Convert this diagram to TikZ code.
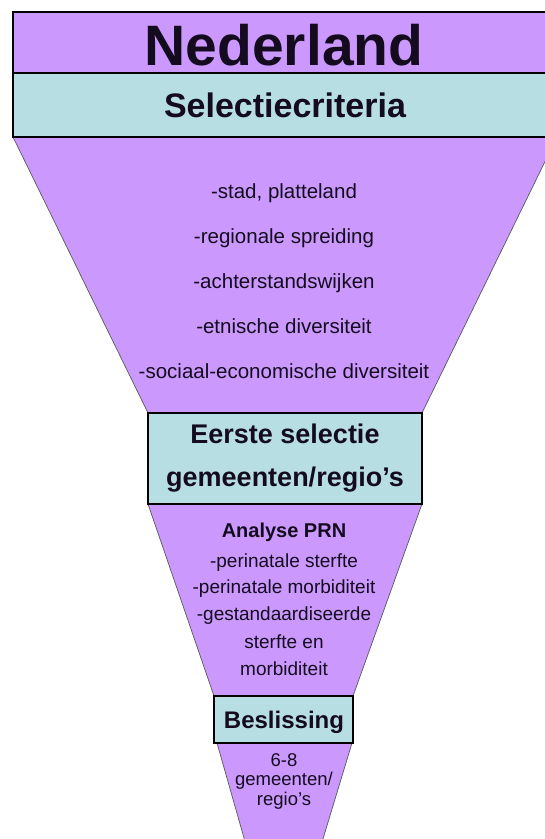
\documentclass[tikz,border=0pt]{standalone}
\usepackage{fontspec}
\setmainfont{Liberation Sans}
\definecolor{funnelpurple}{RGB}{203,152,253}
\definecolor{boxteal}{RGB}{183,222,226}
\definecolor{txt}{RGB}{20,12,30}
\tikzset{
  funnel/.style={fill=funnelpurple, draw=black!65, line width=0.7pt},
  tealbox/.style={fill=boxteal, draw=black, line width=2pt},
  purplebox/.style={fill=funnelpurple, draw=black, line width=2pt},
  lbl/.style={anchor=base, text=txt, inner sep=0pt},
}
\begin{document}
\begin{tikzpicture}[x=1pt,y=-1pt]
\useasboundingbox (0,0) rectangle (545,839);
\clip (0,0) rectangle (545,839);
% funnels
\draw[funnel] (13,137) -- (557,137) -- (422,413) -- (148,413) -- cycle;
\draw[funnel] (148,504) -- (422,504) -- (353,696) -- (214,696) -- cycle;
\draw[funnel] (217,743) -- (352,743) -- (319,852) -- (248,852) -- cycle;
% boxes
\draw[purplebox] (13,12) rectangle (560,73);
\draw[tealbox] (13,73) rectangle (560,137);
\draw[tealbox] (148,413) rectangle (422,504);
\draw[tealbox] (214,696) rectangle (353,743);
% texts
\node[lbl, font=\bfseries\fontsize{57}{60}\selectfont] (ned) at (284,65) {Nederland};
\node[lbl, font=\bfseries\fontsize{34}{38}\selectfont] (sel) at (285,117) {Selectiecriteria};
\begin{scope}[every node/.style={lbl, font=\fontsize{20.5}{24}\selectfont}]
\node (c1) at (284,198) {-stad, platteland};
\node (c2) at (284,243) {-regionale spreiding};
\node (c3) at (284,288) {-achterstandswijken};
\node (c4) at (284,333) {-etnische diversiteit};
\node (c5) at (284,378) {-sociaal-economische diversiteit};
\end{scope}
\node[lbl, font=\bfseries\fontsize{27}{30}\selectfont] (es1) at (285,443) {Eerste selectie};
\node[lbl, font=\bfseries\fontsize{27}{30}\selectfont] (es2) at (285,486) {gemeenten/regio’s};
\node[lbl, font=\bfseries\fontsize{20}{24}\selectfont] (an) at (284,537) {Analyse PRN};
\begin{scope}[every node/.style={lbl, font=\fontsize{19}{22}\selectfont}]
\node (a1) at (284,567) {-perinatale sterfte};
\node (a2) at (284,593) {-perinatale morbiditeit};
\node (a3) at (284,620) {-gestandaardiseerde};
\node (a4) at (284,648) {sterfte en};
\node (a5) at (284,675) {morbiditeit};
\end{scope}
\node[lbl, font=\bfseries\fontsize{24}{28}\selectfont] (bes) at (284,728) {Beslissing};
\begin{scope}[every node/.style={lbl, font=\fontsize{18.5}{22}\selectfont}]
\node (b1) at (284,766) {6-8};
\node (b2) at (284,785) {gemeenten/};
\node (b3) at (284,805) {regio’s};
\end{scope}
\end{tikzpicture}
\end{document}
